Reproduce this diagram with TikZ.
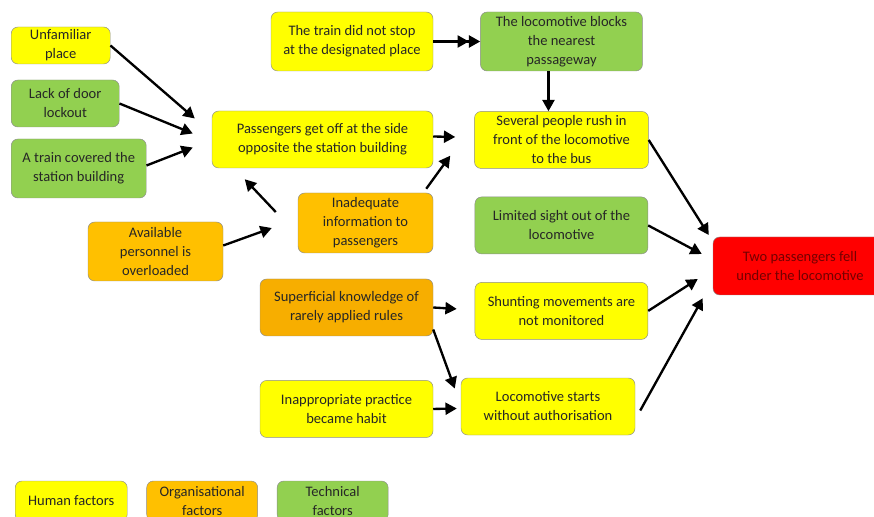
\documentclass[tikz,border=0pt]{standalone}
\usepackage{fontspec}
\setmainfont{Carlito}
\usepackage{xcolor}
\usepackage{tikz}
\usetikzlibrary{arrows.meta,positioning,calc}
\definecolor{humanyel}{HTML}{FFFF00}
\definecolor{orgaora}{HTML}{FFC000}
\definecolor{orgadark}{HTML}{F7AE00}
\definecolor{techgrn}{HTML}{92D050}
\definecolor{eventred}{HTML}{FF0000}

\begin{document}
\begin{tikzpicture}[
  x=0.03cm, y=-0.03cm,
  font=\fontsize{12.4}{16.2}\selectfont,
  box/.style={draw=black!45, rounded corners=0.2cm, align=center, inner sep=1pt,
    text=black!85},
  boxsize/.style 2 args={minimum width=#1*0.03cm, minimum height=#2*0.03cm},
  human/.style={box, fill=humanyel},
  orga/.style={box, fill=orgaora},
  tech/.style={box, fill=techgrn},
  event/.style={box, fill=eventred, text=red!45!black},
  arrow/.style={-{Triangle[length=3.4mm,width=3.6mm]}, line width=2pt},
  arrow2/.style={-{Triangle[length=3.4mm,width=3.6mm]Triangle[length=3.4mm,width=3.6mm]},
    line width=2pt}
]
\useasboundingbox (0,0) rectangle (874,517);

% left column
\node[human, boxsize={99}{37}, anchor=west] (unfam) at (11,45.5) {Unfamiliar\\place};
\node[tech, boxsize={108}{47}, anchor=west] (lack) at (11,103.5) {Lack of door\\lockout};
\node[tech, boxsize={135}{59}, anchor=west] (covered) at (11,168.5) {A train covered the\\station building};
\node[orga, boxsize={135}{59}] (avail) at (155.5,251.5) {Available\\personnel is\\overloaded};

% middle
\node[human, boxsize={162}{59}] (stop) at (352,41.5) {The train did not stop\\at the designated place};
\node[human, boxsize={221}{57}] (getoff) at (322.5,139.5) {Passengers get off at the side\\opposite the station building};
\node[orga, boxsize={135}{60}] (inadeq) at (365.5,223) {Inadequate\\information to\\passengers};
\node[orga, boxsize={173}{57}, fill=orgadark] (superf) at (346.5,307.5) {Superficial knowledge of\\rarely applied rules};
\node[human, boxsize={173}{57}, below=1.32cm of superf] (habit) {Inappropriate practice\\became habit};

% right column
\node[tech, boxsize={162}{59}, right=1.41cm of stop] (blocks) {The locomotive blocks\\the nearest\\passageway};
\node[human, boxsize={174}{57}, below=1.2cm of blocks] (rush) {Several people rush in\\front of the locomotive\\to the bus};
\node[tech, boxsize={173}{57}, below=0.84cm of rush] (sight) {Limited sight out of the\\locomotive};
\node[human, boxsize={173}{57}, below=0.84cm of sight] (shunt) {Shunting movements are\\not monitored};
\node[human, boxsize={174}{57}] (starts) at (548,406.5) {Locomotive starts\\without authorisation};
\node[event, boxsize={174}{58}] (fell) at (800,266) {Two passengers fell\\under the locomotive};

% legend
\node[human, boxsize={112}{40}, anchor=west] (lhuman) at (15,501) {Human factors};
\node[orga, boxsize={111}{40}, right=0.57cm of lhuman] (lorga) {Organisational\\factors};
\node[tech, boxsize={111}{40}, right=0.57cm of lorga] (ltech) {Technical\\factors};

\draw[arrow] (unfam.east) -- ($(getoff.west)+(-17,-21)$);
\draw[arrow] (lack.east) -- ($(getoff.west)+(-19,-6)$);
\draw[arrow] ($(covered.east)+(0,-3)$) -- ($(getoff.west)+(-19,8)$);
\draw[arrow2] (stop) -- (blocks);
\draw[arrow] ($(blocks.south)+(-13,0)$) -- ($(rush.north)+(-13,0)$);
\draw[arrow] ($(getoff.east)+(0,-3)$) -- ($(rush.west)+(-19,-3)$);
\draw[arrow] ($(inadeq.north east)+(-7,-4)$) -- ($(rush.south west)+(-24,-13)$);
\draw[arrow] ($(inadeq.west)+(-22,-11)$) -- ($(getoff.south west)+(33,11)$);
\draw[arrow] ($(avail.east)+(0,-6)$) -- ($(inadeq.west)+(-26,5)$);
\draw[arrow] (superf.east) -- ($(shunt.west)+(-18,-2)$);
\draw[arrow] ($(superf.east)+(0,22)$) -- ($(starts.west)+(-6,-18)$);
\draw[arrow] (habit.east) -- ($(starts.west)+(-4,2)$);
\draw[arrow] (rush.east) -- ($(fell.west)+(-4,-31)$);
\draw[arrow] (sight.east) -- ($(fell.west)+(-11,-12)$);
\draw[arrow] (shunt.east) -- ($(fell.west)+(-15,13)$);
\draw[arrow] ($(starts.east)+(5,4)$) -- ($(fell.south west)+(-10,3)$);
\end{tikzpicture}
\end{document}
